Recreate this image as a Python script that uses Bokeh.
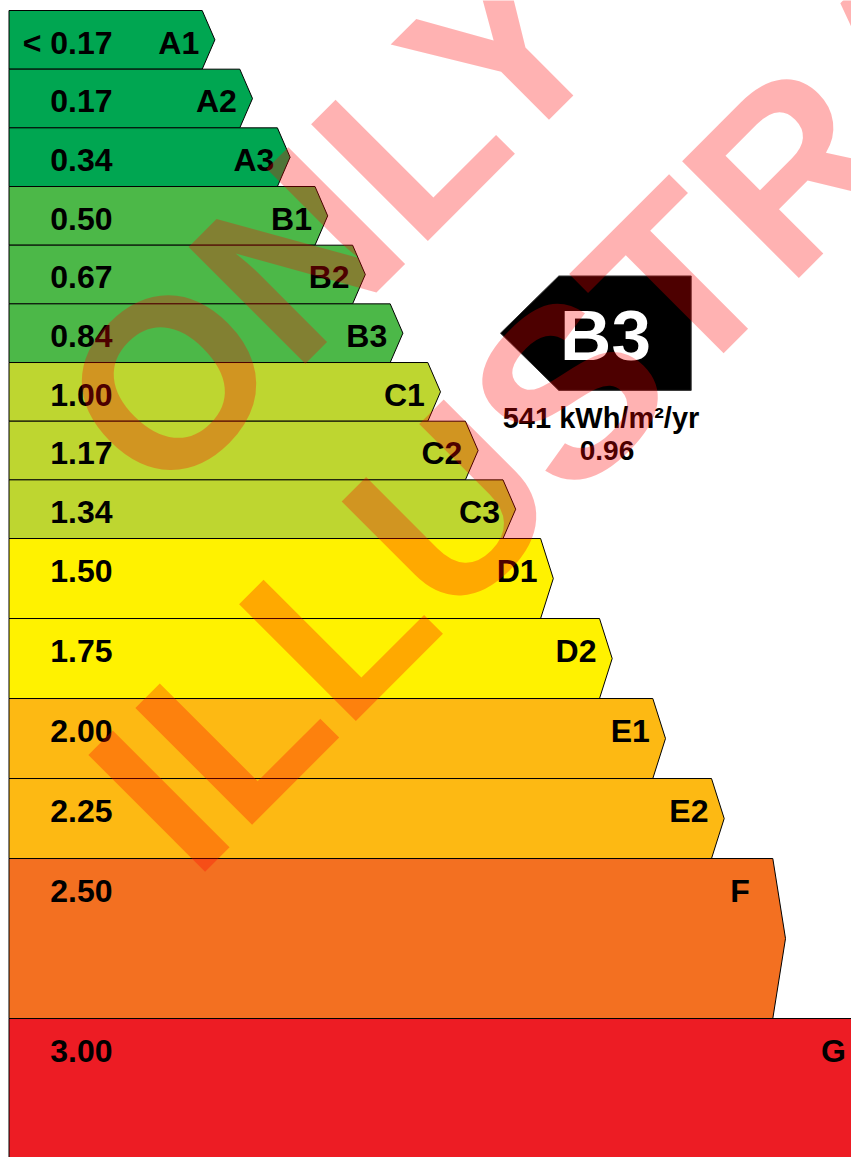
import math
from bokeh.plotting import figure
from bokeh.models import Range1d, ColumnDataSource
from bokeh.core.properties import value
from bokeh.embed import file_html
from bokeh.resources import INLINE

# ---------------- data ----------------
grades = ["A1", "A2", "A3", "B1", "B2", "B3", "C1", "C2", "C3",
          "D1", "D2", "E1", "E2", "F", "G"]
thresholds = ["< 0.17", "0.17", "0.34", "0.50", "0.67", "0.84", "1.00", "1.17",
              "1.34", "1.50", "1.75", "2.00", "2.25", "2.50", "3.00"]
bar_length = [193.2, 230.8, 268.4, 306.0, 343.6, 381.2, 418.8, 456.4, 494.0,
              531.6, 590.5, 643.8, 702.5, 763.8, 854.8]
current_grade = "B3"
energy_text = "541 kWh/m\u00b2/yr"
ratio_text = "0.96"
watermark_lines = ["ONLY", "ILLUSTRATIVE"]

# ---------------- style ----------------
GROUP_COLOR = {"A": "#00a651", "B": "#4cb848", "C": "#bed630", "D": "#fff200",
               "E": "#fdb913", "F": "#f37021", "G": "#ed1c24"}
ROW_H = {"A": 58.67, "B": 58.67, "C": 58.67, "D": 80, "E": 80, "F": 160, "G": 160}
LABEL_INSET = {"F": 23, "G": 18}
FONT = "Liberation Sans"
MID = 0.3465          # em-box middle above the alphabetic baseline
W, H = 851, 1157
TOP = 10.0
LEFT = 8.5
TIP = 12.7
LAB_FS = 32


def dx(sx):
    return sx


def dy(sy):
    return H - sy


p = figure(width=W, height=H, output_backend="svg", toolbar_location=None,
           x_range=Range1d(0, W), y_range=Range1d(0, H), min_border=0)
p.axis.visible = False
p.grid.visible = False
p.outline_line_color = None
p.background_fill_color = "white"
p.border_fill_color = "white"

xs, ys, cols = [], [], []
lab_x, lab_y = [], []
tops = []
t = TOP
for g, L in zip(grades, bar_length):
    h = ROW_H[g[0]]
    tops.append(t)
    xs.append([dx(LEFT), dx(LEFT + L), dx(LEFT + L + TIP), dx(LEFT + L), dx(LEFT)])
    ys.append([dy(t), dy(t), dy(t + h / 2), dy(t + h), dy(t + h)])
    cols.append(GROUP_COLOR[g[0]])
    lab_x.append(dx(LEFT + L - LABEL_INSET.get(g, 3)))
    lab_y.append(dy(t + 43.3 - MID * LAB_FS))
    t += h

src = ColumnDataSource(dict(xs=xs, ys=ys, color=cols))
p.patches("xs", "ys", source=src, fill_color="color", line_color="black", line_width=1)

lsrc = ColumnDataSource(dict(x=lab_x, y=lab_y, g=grades,
                             vx=[dx(112)] * len(grades), t=thresholds))
for xcol, tcol in (("vx", "t"), ("x", "g")):
    p.text(xcol, "y", text=tcol, source=lsrc, text_align="right", text_baseline="middle",
           text_font=value(FONT), text_font_style="bold", text_font_size=f"{LAB_FS}px",
           text_color="black")

# current rating indicator
i = grades.index(current_grade)
mid = tops[i] + ROW_H[current_grade[0]] / 2
hh = 57.2
p.patch([dx(500), dx(558.3), dx(690.7), dx(690.7), dx(558.3)],
        [dy(mid), dy(mid - hh), dy(mid - hh), dy(mid + hh), dy(mid + hh)],
        fill_color="black", line_color="#333333", line_width=1)
p.text([dx(605)], [dy(mid + 27.3 - MID * 71)], text=[current_grade], text_align="center",
       text_baseline="middle", text_font=value(FONT), text_font_style="bold",
       text_font_size="71px", text_color="white")
p.text([dx(600.5)], [dy(428 - MID * 29)], text=[energy_text], text_align="center",
       text_baseline="middle", text_font=value(FONT), text_font_style="bold",
       text_font_size="29px", text_color="black")
p.text([dx(606.5)], [dy(459.5 - MID * 28)], text=[ratio_text], text_align="center",
       text_baseline="middle", text_font=value(FONT), text_font_style="bold",
       text_font_size="28px", text_color="black")

# watermark (anchors on the em-box middle line, rotated 45 degrees)
WM_FS = 240
off = MID * WM_FS / math.sqrt(2)
wm_base = [(161.5, 506.5), (193.3, 882.7)]
p.text([dx(bx - off) for bx, by in wm_base], [dy(by - off) for bx, by in wm_base],
       text=watermark_lines, angle=math.pi / 4, text_align="left", text_baseline="middle",
       text_font=value(FONT), text_font_style="bold", text_font_size=f"{WM_FS}px",
       text_color="red", text_alpha=0.3)

open("out.html", "w").write(file_html(p, INLINE))
